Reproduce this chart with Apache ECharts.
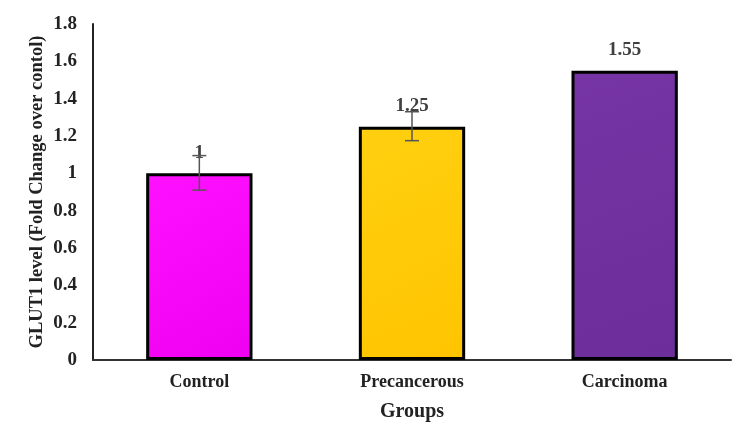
<!DOCTYPE html>
<html><head><meta charset="utf-8">
<script src="https://cdn.jsdelivr.net/npm/echarts@6/dist/echarts.min.js"></script>
<style>html,body{margin:0;padding:0;background:#fff}#c{width:750px;height:448px}</style>
</head><body><div id="c"></div>
<script>
const categories = ['Control', 'Precancerous', 'Carcinoma'];
const values = [1, 1.25, 1.55];
const errLow = [0.91, 1.175, 1.55];
const errHigh = [1.095, 1.33, 1.55];
const yTicks = [0, 0.2, 0.4, 0.6, 0.8, 1, 1.2, 1.4, 1.6, 1.8];
const colors = [['#ff10ff', '#f000f0'], ['#ffd010', '#ffc400'], ['#7634a4', '#6c2e9a']];

const font = '"Liberation Serif", "Times New Roman", serif';
const chart = echarts.init(document.getElementById('c'));
chart.setOption({
  animation: false,
  grid: { left: 93, right: 19, top: 24, bottom: 88 },
  xAxis: {
    type: 'category', data: categories,
    axisLine: { lineStyle: { color: '#333', width: 2 } },
    axisTick: { show: false },
    axisLabel: { fontFamily: font, fontWeight: 'bold', fontSize: 18, color: '#222', margin: 13 },
    name: 'Groups', nameLocation: 'middle', nameGap: 42,
    nameTextStyle: { fontFamily: font, fontWeight: 'bold', fontSize: 20, color: '#222' }
  },
  yAxis: {
    type: 'value', min: 0, max: yTicks[yTicks.length - 1], interval: 0.2,
    axisLine: { show: true, lineStyle: { color: '#222', width: 2 } },
    axisTick: { show: false },
    splitLine: { show: false },
    axisLabel: { fontFamily: font, fontWeight: 'bold', fontSize: 19, color: '#222', margin: 16,
      formatter: v => String(Math.round(v * 10) / 10) },
    name: 'GLUT1 level (Fold Change over contol)', nameLocation: 'middle', nameGap: 46, nameRotate: 90,
    nameMoveOverlap: false,
    nameTextStyle: { fontFamily: font, fontWeight: 'bold', fontSize: 18.5, color: '#222' }
  },
  series: [
    {
      type: 'bar', barWidth: '50%',
      data: values.map((v, i) => ({
        value: v,
        itemStyle: {
          color: new echarts.graphic.LinearGradient(0, 0, 1, 1, [
            { offset: 0, color: colors[i][0] }, { offset: 1, color: colors[i][1] }]),
          borderColor: '#000', borderWidth: 3
        }
      })),
      label: { show: true, position: 'top', distance: 11, fontFamily: font, fontWeight: 'bold', fontSize: 19, color: '#404040' },
      z: 2
    },
    {
      type: 'custom',
      data: categories.map((c, i) => [i, errLow[i], errHigh[i]]),
      renderItem: (params, api) => {
        const x = api.value(0);
        const lo = api.coord([x, api.value(1)]);
        const hi = api.coord([x, api.value(2)]);
        if (Math.abs(lo[1] - hi[1]) < 1) return { type: 'group', children: [] };
        const w = 7;
        const st = { stroke: '#555', lineWidth: 1.5 };
        return {
          type: 'group', children: [
            { type: 'line', shape: { x1: hi[0], y1: hi[1], x2: lo[0], y2: lo[1] }, style: st },
            { type: 'line', shape: { x1: hi[0] - w, y1: hi[1], x2: hi[0] + w, y2: hi[1] }, style: st },
            { type: 'line', shape: { x1: lo[0] - w, y1: lo[1], x2: lo[0] + w, y2: lo[1] }, style: st }
          ]
        };
      },
      z: 3
    }
  ]
});
</script></body></html>
